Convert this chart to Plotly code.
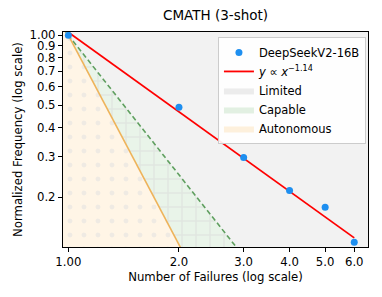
import numpy as np
import plotly.graph_objects as go

failures = [1, 2, 3, 4, 5, 6]
freq = [1.0, 0.489, 0.297, 0.214, 0.181, 0.128]
fit_coef = 1.03
fit_exp = -1.14
capable_exp = -2.0
autonomous_exp = -3.0
x_range = [0.967, 6.54]
y_range = [0.122, 1.033]
xticks = [1, 2, 3, 4, 5, 6]
xtick_text = ["1.00", "2.0", "3.0", "4.0", "5.0", "6.0"]
yticks = [1.0, 0.9, 0.8, 0.7, 0.6, 0.5, 0.4, 0.3, 0.2]
ytick_text = ["1.00", "0.9", "0.8", "0.7", "0.6", "0.5", "0.4", "0.3", "0.2"]

xs = np.logspace(np.log10(x_range[0]), np.log10(x_range[1]), 300)
bottom = np.full_like(xs, y_range[0] / 1.5)
cap = xs ** capable_exp
aut = xs ** autonomous_exp
cap_c = np.clip(cap, y_range[0] / 1.5, y_range[1] * 1.5)
aut_c = np.clip(aut, y_range[0] / 1.5, y_range[1] * 1.5)

fig = go.Figure()
# Capable region
fig.add_trace(go.Scatter(x=xs, y=aut_c, mode="lines", line=dict(width=0), showlegend=False, hoverinfo="skip"))
fig.add_trace(go.Scatter(x=xs, y=cap_c, mode="lines", line=dict(width=0), fill="tonexty",
                         fillcolor="#e9f4e9",
                         fillpattern=dict(shape="+", size=14, fgcolor="#d9d9d9", bgcolor="#e9f4e9", solidity=0.2),
                         showlegend=False, hoverinfo="skip"))
# Autonomous region
fig.add_trace(go.Scatter(x=xs, y=bottom, mode="lines", line=dict(width=0), showlegend=False, hoverinfo="skip"))
fig.add_trace(go.Scatter(x=xs, y=aut_c, mode="lines", line=dict(width=0), fill="tonexty",
                         fillcolor="#fff5e6",
                         fillpattern=dict(shape=".", size=14, fgcolor="#e0e0e0", bgcolor="#fff5e6", solidity=0.1),
                         showlegend=False, hoverinfo="skip"))
# boundary lines
fig.add_trace(go.Scatter(x=xs, y=cap, mode="lines", line=dict(color="#5f9f5f", width=1.6, dash="5px,3px"),
                         showlegend=False, hoverinfo="skip"))
fig.add_trace(go.Scatter(x=xs, y=aut, mode="lines", line=dict(color="#eeb35a", width=1.6),
                         showlegend=False, hoverinfo="skip"))
# fit line
xfit = np.logspace(0, np.log10(failures[-1]), 100)
fig.add_trace(go.Scatter(x=xfit, y=fit_coef * xfit ** fit_exp, mode="lines",
                         line=dict(color="red", width=1.8), showlegend=False, hoverinfo="skip"))
# data points
fig.add_trace(go.Scatter(x=failures, y=freq, mode="markers", marker=dict(color="#1e8ff0", size=7),
                         name="DeepSeekV2-16B"))
# legend entries
fig.add_trace(go.Scatter(x=[0.5], y=[0.01], mode="lines", line=dict(color="red", width=1.8),
                         name="<i>y</i> ∝ <i>x</i><sup>−1.14</sup>", hoverinfo="skip"))
fig.add_trace(go.Scatter(x=[0.5, 0.5], y=[0.01, 0.01], mode="lines", fill="toself", fillcolor="#ececec",
                         line=dict(width=0), name="Limited", hoverinfo="skip"))
fig.add_trace(go.Scatter(x=[0.5, 0.5], y=[0.01, 0.01], mode="lines", fill="toself", fillcolor="#e2f0e2",
                         line=dict(width=0), name="Capable", hoverinfo="skip"))
fig.add_trace(go.Scatter(x=[0.5, 0.5], y=[0.01, 0.01], mode="lines", fill="toself", fillcolor="#fdf0dc",
                         line=dict(width=0), name="Autonomous", hoverinfo="skip"))

axis_font = dict(family="DejaVu Sans", size=11.7, color="black")
fig.update_layout(
    width=374, height=289,
    margin=dict(l=55, r=14, t=24, b=50),
    paper_bgcolor="white", plot_bgcolor="#f2f2f2",
    title=dict(text="CMATH (3-shot)", x=0.5, xref="paper", y=0.975, yref="container",
               xanchor="center", yanchor="middle", font=dict(family="DejaVu Sans", size=13.5, color="black")),
    font=axis_font,
    legend=dict(x=0.508, y=0.977, xanchor="left", yanchor="top", bgcolor="rgba(255,255,255,0.9)",
                bordercolor="#cccccc", borderwidth=1, font=dict(family="DejaVu Sans", size=11.5),
                itemwidth=30, tracegroupgap=0, traceorder="normal"),
    showlegend=True,
)
fig.update_xaxes(type="log", range=[np.log10(x_range[0]), np.log10(x_range[1])],
                 tickvals=xticks, ticktext=xtick_text, ticks="outside", ticklen=4, tickcolor="black",
                 showline=True, linecolor="black", linewidth=1.2, mirror=True, showgrid=False, zeroline=False,
                 automargin=False,
                 title=dict(text="Number of Failures (log scale)", font=axis_font, standoff=4),
                 tickfont=axis_font)
fig.update_yaxes(type="log", range=[np.log10(y_range[0]), np.log10(y_range[1])],
                 tickvals=yticks, ticktext=ytick_text, ticks="outside", ticklen=4, tickcolor="black",
                 showline=True, linecolor="black", linewidth=1.2, mirror=True, showgrid=False, zeroline=False,
                 automargin=False,
                 title=dict(text="Normalized Frequency (log scale)", font=axis_font, standoff=4),
                 tickfont=axis_font)
fig.write_html("out.html")
